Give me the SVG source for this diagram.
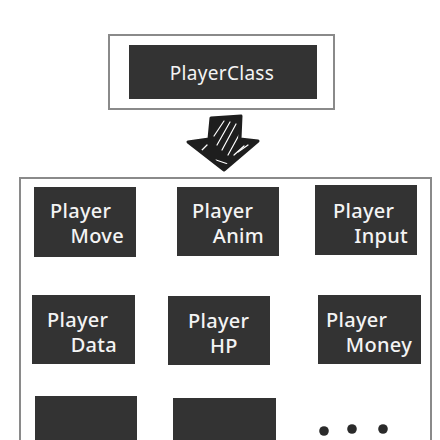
<svg xmlns="http://www.w3.org/2000/svg" width="440" height="440" viewBox="0 0 440 440">
<defs>
<style>
.box{fill:#333333;}
.t{fill:#f4f4f4;font-family:"Noto Sans","DejaVu Sans",sans-serif;font-size:20px;font-weight:500;letter-spacing:0.3px;}
.frame{fill:none;stroke:#8a8a8a;stroke-width:2;}
.dot{fill:#2a2a2a;}
.hatch{stroke:#ffffff;stroke-width:1.2;fill:none;stroke-linecap:round;}
</style>
<clipPath id="arrowClip">
<path d="M213,121 L239,119 L238,141 L253,143 L224,166 L193,144 L211,141 Z"/>
</clipPath>
</defs>
<rect width="440" height="440" fill="#ffffff"/>

<g id="playerclass">
<rect class="frame" x="109" y="35" width="225" height="74"/>
<rect class="box" x="129" y="45" width="188" height="54"/>
<text class="t" x="222" y="80" text-anchor="middle" style="font-weight:400;font-size:19px">PlayerClass</text>
</g>

<g id="connectors">
<g id="arrow">
<path d="M211,118 L241,116 L240,139 L258,141 L224,170 L188,142 L209,139 Z" fill="#1e1e1e" stroke="#1e1e1e" stroke-width="3" stroke-linejoin="round"/>
<g clip-path="url(#arrowClip)">
<line class="hatch" x1="214" y1="136" x2="224" y2="121"/>
<line class="hatch" x1="217" y1="145" x2="230" y2="122"/>
<line class="hatch" x1="222" y1="150" x2="236" y2="124"/>
<line class="hatch" x1="228" y1="155" x2="239" y2="135"/>
<line class="hatch" x1="202" y1="150" x2="207" y2="145"/>
<line class="hatch" x1="234" y1="155" x2="244" y2="146"/>
<line class="hatch" x1="238" y1="152" x2="248" y2="145"/>
<line class="hatch" x1="216" y1="160" x2="228" y2="164"/>
</g>
</g>
</g>

<g id="container">
<rect class="frame" x="20" y="178" width="411" height="280"/>
</g>

<g id="player-move">
<rect class="box" x="34" y="187" width="102" height="70"/>
<text class="t" x="50" y="218">Player</text>
<text class="t" x="124" y="243" text-anchor="end">Move</text>
</g>
<g id="player-anim">
<rect class="box" x="177" y="187" width="102" height="69"/>
<text class="t" x="192" y="218">Player</text>
<text class="t" x="264" y="243" text-anchor="end">Anim</text>
</g>
<g id="player-input">
<rect class="box" x="315" y="185" width="102" height="70"/>
<text class="t" x="333" y="218">Player</text>
<text class="t" x="408" y="243" text-anchor="end">Input</text>
</g>

<g id="player-data">
<rect class="box" x="32" y="295" width="103" height="69"/>
<text class="t" x="47" y="327">Player</text>
<text class="t" x="117" y="352" text-anchor="end">Data</text>
</g>
<g id="player-hp">
<rect class="box" x="168" y="296" width="102" height="69"/>
<text class="t" x="188" y="328">Player</text>
<text class="t" x="224" y="353" text-anchor="middle">HP</text>
</g>
<g id="player-money">
<rect class="box" x="318" y="295" width="103" height="69"/>
<text class="t" x="326" y="327">Player</text>
<text class="t" x="412" y="352" text-anchor="end">Money</text>
</g>

<g id="blank-1">
<rect class="box" x="35" y="396" width="102" height="50"/>
</g>
<g id="blank-2">
<rect class="box" x="173" y="398" width="103" height="50"/>
</g>
<g id="more">
<circle class="dot" cx="324" cy="431" r="4.8"/>
<circle class="dot" cx="352" cy="429" r="4.8"/>
<circle class="dot" cx="383" cy="429" r="4.8"/>
</g>
</svg>
